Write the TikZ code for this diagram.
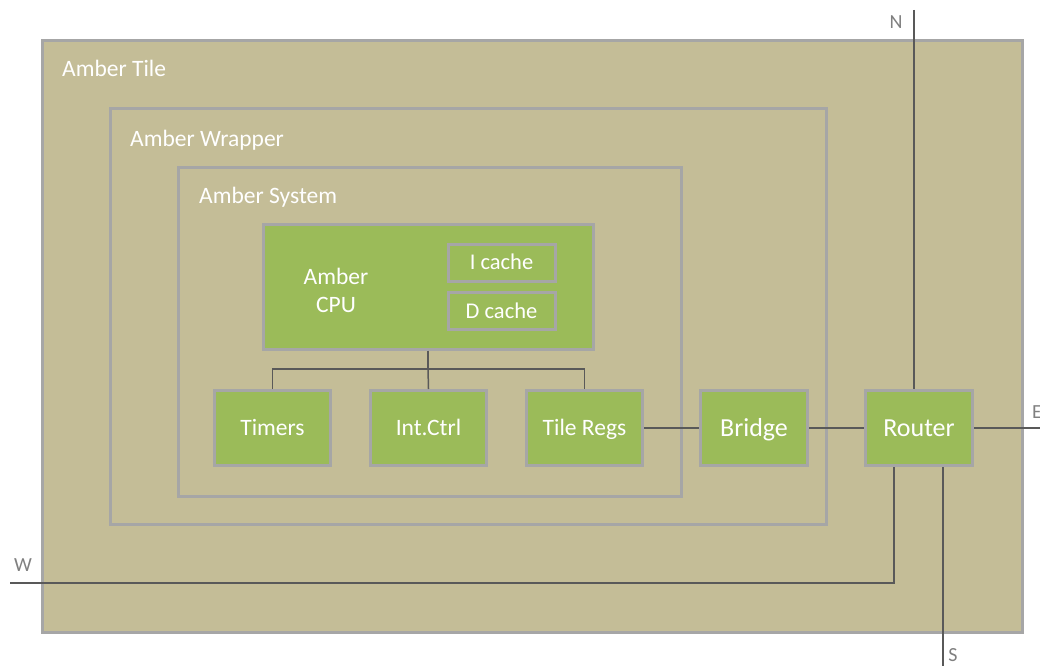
\documentclass[tikz,border=0pt]{standalone}
\usepackage{fontspec}
\setmainfont{Carlito}
\usetikzlibrary{positioning}

\definecolor{tan}{HTML}{C4BD97}
\definecolor{leaf}{HTML}{9BBB59}
\definecolor{rim}{HTML}{A6A6A6}
\definecolor{wire}{HTML}{595959}
\definecolor{port}{HTML}{808080}

\tikzset{
  shell/.style = {draw = rim, line width = 3pt, fill = tan, anchor = north west, inner sep = 0pt},
  block/.style = {draw = rim, line width = 3pt, fill = leaf, text = white, inner sep = 0pt,
                  text height = 15pt, text depth = 0pt,
                  minimum width = 116pt, minimum height = 75pt, font = \fontsize{23.5}{28}\selectfont},
  bigblock/.style = {block, minimum width = 107pt, text height = 16.5pt, font = \fontsize{26}{30}\selectfont},
  cache/.style = {draw = rim, line width = 3pt, text = white, inner sep = 0pt,
                  text height = 14.5pt, text depth = 0pt,
                  minimum width = 107pt, minimum height = 37pt, font = \fontsize{22.5}{27}\selectfont},
  boxtitle/.style = {anchor = base west, text = white, inner sep = 0pt, font = \fontsize{23.5}{28}\selectfont},
  link/.style = {draw = wire, line width = 1.5pt},
  portname/.style = {text = port, inner sep = 0pt, font = \fontsize{20}{24}\selectfont}
}

\begin{document}
\begin{tikzpicture}[x = 1pt, y = -1pt]
\useasboundingbox (0,0) rectangle (1040,666);

% nested frames
\node[shell, minimum width = 980pt, minimum height = 592pt] (tile) at (41,39) {};
\node[boxtitle] (tilename) at (62,77) {Amber Tile};
\node[shell, minimum width = 716pt, minimum height = 416pt] (wrapper) at (109,107) {};
\node[boxtitle] (wrappername) at (130,146) {Amber Wrapper};
\node[shell, minimum width = 503pt, minimum height = 329pt] (system) at (177,166) {};
\node[boxtitle] (systemname) at (199,203) {Amber System};

% cpu with caches
\node[block, minimum width = 330pt, minimum height = 125pt] (cpu) at (428,286.5) {};
\node[text = white, align = center, inner sep = 0pt, font = \fontsize{23.5}{28}\selectfont] (cpuname) at (336,290) {Amber\\CPU};
\node[cache] (icache) at (501.5,262.5) {I cache};
\node[cache] (dcache) at (501.5,311) {D cache};

% peripherals
\node[block] (timers) at (272.5,428) {Timers};
\node[block, right = 37pt of timers] (intc) {Int.Ctrl};
\node[block, right = 37pt of intc] (regs) {Tile Regs};
\node[bigblock, right = 55pt of regs] (bridge) {Bridge};
\node[bigblock, right = 55pt of bridge] (router) {Router};

% bus
\coordinate (split) at (428,369);
\draw[link] (cpu.south) -- (split);
\draw[link] (timers.north) |- (split) -| (regs.north);
\draw[link] (split) -- (intc.north);
\draw[link] (regs.east) -- (bridge.west);
\draw[link] (bridge.east) -- (router.west);

% mesh ports
\coordinate (nport) at (914,10);
\coordinate (eport) at (1040,428);
\coordinate (sport) at (943,666);
\coordinate (wport) at (10,583);
\coordinate (wturn) at (894,583);
\draw[link] (nport) -- (nport |- router.north);
\draw[link] (router.east) -- (eport);
\draw[link] (router.south -| sport) -- (sport);
\draw[link] (wport) -- (wturn) -- (wturn |- router.south);
\node[portname] (nname) at (896,22) {N};
\node[portname, anchor = west] (ename) at (1032,412) {E};
\node[portname] (sname) at (953,655) {S};
\node[portname] (wname) at (23,565) {W};
\end{tikzpicture}
\end{document}
